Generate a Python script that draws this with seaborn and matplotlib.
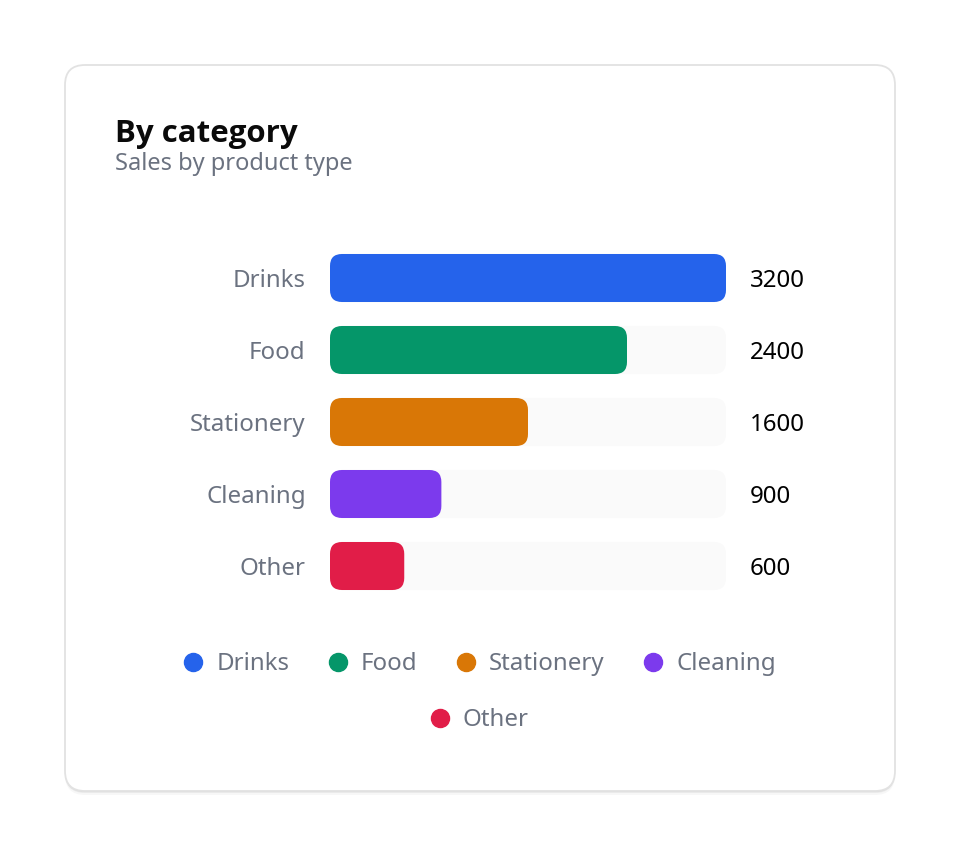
import numpy as np
import pandas as pd
import seaborn as sns
import matplotlib.pyplot as plt
from matplotlib.patches import FancyBboxPatch
from matplotlib.lines import Line2D
from matplotlib.transforms import IdentityTransform

# data
categories = ["Drinks", "Food", "Stationery", "Cleaning", "Other"]
sales = [3200, 2400, 1600, 900, 600]
colors = ["#2563eb", "#059669", "#d97706", "#7c3aed", "#e11d48"]
x_max = 3200

sns.set_theme(style="white")
plt.rcParams["font.family"] = ["Noto Sans", "DejaVu Sans"]

W, H = 960, 856
fig = plt.figure(figsize=(W / 100, H / 100), dpi=100)
fig.patch.set_facecolor("white")

# card with soft shadow
for off, a in [(4, 0.03), (2, 0.05), (1, 0.06)]:
    fig.add_artist(FancyBboxPatch((65, 65 - off), 830, 726, boxstyle="round,pad=0,rounding_size=20",
                                  transform=IdentityTransform(), fc="black", ec="none", alpha=a, zorder=-10))
fig.add_artist(FancyBboxPatch((65, 65), 830, 726, boxstyle="round,pad=0,rounding_size=20",
                              transform=IdentityTransform(), fc="white", ec="#e2e2e2", lw=1.3, zorder=-9))

fig.text(115 / W, 1 - 142 / H, "By category", fontsize=22.5, fontweight="bold", color="#0a0a0a",
         va="baseline", family=["Open Sans", "Noto Sans", "DejaVu Sans"])
fig.text(115 / W, 1 - 170 / H, "Sales by product type", fontsize=17, color="#6b7280", va="baseline")

ax = fig.add_axes([330 / W, 1 - 602 / H, 396 / W, 360 / H])
ax.set_zorder(5)
df = pd.DataFrame({"category": categories, "sales": sales})
df["track"] = x_max

sns.barplot(data=df, y="category", x="track", color="#fafafa", width=0.667, ax=ax, orient="h")
sns.barplot(data=df, y="category", x="sales", hue="category", palette=colors, width=0.667,
            ax=ax, orient="h", legend=False, saturation=1)

ax.set_xlim(0, x_max)
ax.set_ylim(len(categories) - 0.5, -0.5)

# turn rectangles into rounded bars (radius 12px)
px_x = 396 / x_max
px_y = 360 / len(categories)
rx = 12 / px_x
ry = 12 / px_y
for b in list(ax.patches):
    x, y, w, h = b.get_x(), b.get_y(), b.get_width(), b.get_height()
    fc = b.get_facecolor()
    z = b.get_zorder()
    b.remove()
    ax.add_patch(FancyBboxPatch((x, y), w, h, boxstyle=f"round,pad=0,rounding_size={rx}",
                                mutation_aspect=ry / rx, fc=fc, ec="none", zorder=z))

for i, v in enumerate(sales):
    ax.annotate(f"{v}", xy=(1, i), xycoords=("axes fraction", "data"), xytext=(17.3, 0),
                textcoords="offset points", va="center_baseline", ha="left", fontsize=17.3,
                color="#000000", fontweight="medium")

ax.set_xlabel("")
ax.set_ylabel("")
ax.set_xticks([])
ax.tick_params(axis="y", length=0, pad=17.5, labelsize=17.3, labelcolor="#6b7280")
for s in ax.spines.values():
    s.set_visible(False)
ax.set_facecolor("none")

handles = [Line2D([], [], marker="o", ls="none", color=c, markersize=13, label=l)
           for l, c in zip(categories, colors)]
leg_kw = dict(frameon=False, fontsize=17.3, handlelength=0.75, handletextpad=0.58,
              columnspacing=1.65, labelcolor="#6b7280", borderaxespad=0, borderpad=0)
fig.legend(handles=handles[:4], ncol=4, loc="center", bbox_to_anchor=(0.5, 1 - 664 / H), **leg_kw)
fig.legend(handles=handles[4:], ncol=1, loc="center", bbox_to_anchor=(0.5, 1 - 720 / H), **leg_kw)

fig.savefig("out.png", dpi=100, facecolor="white")
